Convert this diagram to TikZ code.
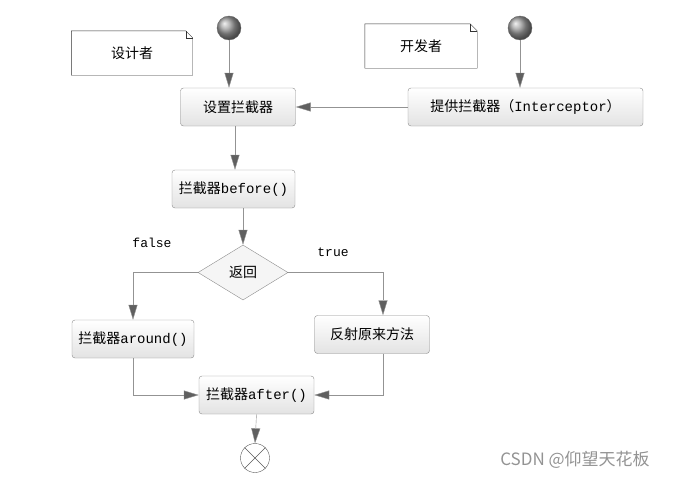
\documentclass[tikz,border=0pt]{standalone}
\usepackage{fontspec}
\setmainfont{Liberation Mono}
\newfontfamily\cjk{Noto Sans CJK SC}
\usetikzlibrary{arrows.meta,shapes.geometric}

\begin{document}
\begin{tikzpicture}[x=1pt,y=-1pt,
    every node/.style={font=\fontsize{14}{16}\selectfont},
    box/.style={draw=gray!90, rounded corners=3pt, top color=white, bottom color=gray!22, minimum height=38pt, inner sep=0pt},
    note/.style={minimum width=#1, minimum height=44pt, inner sep=0pt},
    ball/.style={circle, draw=gray!80!black, shading=ball, ball color=gray!75, minimum size=24pt, inner sep=0pt},
    ar/.style={draw=gray!85, -{Triangle[length=15pt,width=9pt,fill=gray!75!black]}},
    ln/.style={draw=gray!85}]
    \useasboundingbox (0,0) rectangle (676,479);
    % notes
    \node[note=121pt] (n1) at (132,53) {\cjk 设计者};
    \node[note=112pt] (n2) at (421,46) {\cjk 开发者};
    \foreach \n in {n1,n2}{
        \draw[gray!40!black] (\n.south west) -- (\n.north west) -- ([xshift=-7pt]\n.north east) -- ([yshift=-7pt]\n.north east) -- (\n.south east) -- cycle;
        \draw[gray!40!black] ([xshift=-7pt]\n.north east) |- ([yshift=-7pt]\n.north east);
    }
    % start points
    \node[ball] (s1) at (229,28) {};
    \node[ball] (s2) at (520,28) {};
    % boxes
    \node[box, minimum width=115pt] (b1) at (238,107) {\cjk 设置拦截器};
    \node[box, minimum width=235pt] (b2) at (525.5,107) {{\cjk 提供拦截器（}Interceptor{\cjk ）}};
    \node[box, minimum width=123pt] (b3) at (233.5,189) {{\cjk 拦截器}before()};
    \node[diamond, draw=gray!90, fill=gray!8, minimum width=90pt, minimum height=55pt, inner sep=0pt] (d1) at (243,272.5) {\cjk 返回};
    \node[box, minimum width=122pt] (b4) at (133,339) {{\cjk 拦截器}around()};
    \node[box, minimum width=115pt] (b5) at (372,334.5) {\cjk 反射原来方法};
    \node[box, minimum width=115pt] (b6) at (256.5,395) {{\cjk 拦截器}after()};
    \node[circle, draw=gray!70!black, minimum size=29pt, inner sep=0pt] (e1) at (255,458) {};
    \draw[gray!70!black] (e1.45) -- (e1.225) (e1.135) -- (e1.315);
    % labels
    \node[font=\fontsize{13}{15}\selectfont] (f1) at (152,243) {false};
    \node[font=\fontsize{13}{15}\selectfont] (t1) at (333,252) {true};
    \node[text=gray!85, font=\cjk\fontsize{17}{19}\selectfont] (w1) at (575,460) {CSDN @仰望天花板};
    % flow
    \draw[ar] (s1.south) -- (s1.south |- b1.north);
    \draw[ar] (s2.south) -- (s2.south |- b2.north);
    \draw[ar] (b2.west) -- (b1.east);
    \draw[ar] ([xshift=-3pt]b1.south) -- ([xshift=-3pt]b1.south |- b3.north);
    \draw[ar] (b3.south -| d1) -- (d1.north);
    \draw[ar] (d1.west) -| (b4.north);
    \draw[ar] (d1.east) -| ([xshift=11pt]b5.north);
    \draw[ar] (b4.south) |- (b6.west);
    \draw[ar] ([xshift=11pt]b5.south) |- (b6.east);
    \draw[ar] (b6.south) -- (e1.north);
\end{tikzpicture}
\end{document}
